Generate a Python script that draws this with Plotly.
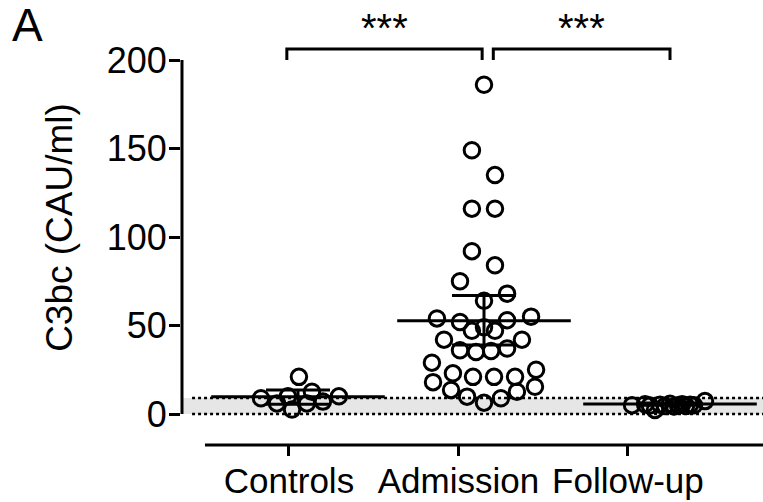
import plotly.graph_objects as go

# ---------------- data ----------------
categories = ["Controls", "Admission", "Follow-up"]

controls_values = [21, 8.9, 6, 10, 2.5, 6, 12.6, 7, 10]
controls_dx = [0.005, -0.199, -0.113, -0.054, -0.032, 0.048, 0.075, 0.134, 0.22]

admission_values = [186, 149, 135, 116, 116, 92, 84, 75, 68, 64,
                    54, 52, 53, 55, 49, 47, 47, 42, 42, 36, 35, 35.6, 37,
                    29, 23, 21, 21, 21, 25, 18, 13.6, 9.8, 6.4, 8.9, 12.6, 15.4]
admission_dx = [0, -0.065, 0.059, -0.065, 0.059, -0.065, 0.059, -0.129, 0.124, 0,
                -0.253, -0.129, 0.124, 0.253, 0, -0.065, 0.059, -0.215, 0.204,
                -0.129, -0.043, 0.038, 0.124,
                -0.28, -0.167, -0.059, 0.054, 0.167, 0.28, -0.274, -0.177, -0.091,
                0, 0.091, 0.177, 0.274]

followup_values = [5, 5.5, 4.8, 2.3, 5.2, 4.5, 5.8, 4.2, 5.0, 5.5, 4.6, 5.3, 4.9, 7.3]
followup_dx = [-0.204, -0.134, -0.108, -0.081, -0.054, -0.027, 0, 0.022, 0.043,
               0.065, 0.086, 0.108, 0.129, 0.188]

# summary lines (mean with 95% CI)
summary_center = [9.8, 52.7, 5.6]
summary_low = [5.5, 39, 5.0]
summary_high = [13.5, 67, 6.2]

# reference (normal) range band
ref_low = 0
ref_high = 9

# significance comparisons
comparisons = [(0, 1, "***"), (1, 2, "***")]

# y ticks
y_ticks = [0, 50, 100, 150, 200]

# ---------------- figure ----------------
FONT = "Liberation Sans, Arial, sans-serif"
groups = [controls_values, admission_values, followup_values]
offsets = [controls_dx, admission_dx, followup_dx]

fig = go.Figure()

for gi, (vals, dxs) in enumerate(zip(groups, offsets)):
    fig.add_trace(go.Scatter(
        x=[gi + d for d in dxs], y=vals, mode="markers",
        marker=dict(symbol="circle-open", size=15.5, color="black",
                    line=dict(width=3, color="black")),
        cliponaxis=False, hoverinfo="y", name=categories[gi]))

fig.add_trace(go.Scatter(
    x=list(range(len(categories))), y=summary_center, mode="markers",
    marker=dict(symbol="line-ew", size=124, color="black",
                line=dict(width=3, color="black")),
    error_y=dict(type="data", symmetric=False,
                 array=[h - c for h, c in zip(summary_high, summary_center)],
                 arrayminus=[c - l for c, l in zip(summary_center, summary_low)],
                 thickness=3, width=32, color="black"),
    cliponaxis=False, hoverinfo="y", name="mean"))

# invisible trace that carries the category axis
fig.add_trace(go.Scatter(
    x=list(range(len(categories))), y=[None] * len(categories),
    xaxis="x2", yaxis="y", mode="markers", hoverinfo="skip",
    showlegend=False, name="axis"))

shapes = []
# reference band
shapes.append(dict(type="rect", xref="paper", yref="y", x0=0, x1=1,
                   y0=ref_low, y1=ref_high, fillcolor="#e6e6e6",
                   line=dict(width=0), layer="below"))
for yv in (ref_low, ref_high):
    shapes.append(dict(type="line", xref="paper", yref="y", x0=0.019, x1=1,
                       y0=yv, y1=yv, line=dict(color="black", width=2.5, dash="3px,3px"),
                       layer="below"))
# y axis line (0 to 200 only)
shapes.append(dict(type="line", xref="paper", yref="y", x0=0.0017, x1=0.0017,
                   y0=y_ticks[0], y1=y_ticks[-1], line=dict(color="black", width=3)))
# x axis line (offset, starting right of the y axis)
shapes.append(dict(type="line", xref="paper", yref="paper", x0=0.0412, x1=1,
                   y0=0, y1=0, line=dict(color="black", width=3)))

annotations = []
for k, (i, j, label) in enumerate(comparisons):
    x0 = i + (0.05 if i > 0 else -0.06)
    x1 = j - (0.01 if j < len(categories) - 1 else 0.0)
    shapes.append(dict(type="path", xref="x", yref="y",
                       path=f"M {x0},200 L {x0},206.2 L {x1},206.2 L {x1},200",
                       line=dict(color="black", width=3)))
    annotations.append(dict(x=(x0 + x1) / 2, y=218, xref="x", yref="y",
                            text=label, showarrow=False,
                            font=dict(family=FONT, size=40, color="black")))

annotations.append(dict(x=-0.293, y=1, xref="paper", yref="paper", text="A",
                        xanchor="left", yanchor="top", showarrow=False, yshift=13,
                        font=dict(family=FONT, size=46, color="black")))

fig.update_layout(
    width=763, height=502,
    margin=dict(l=181, r=0, t=10, b=57),
    paper_bgcolor="white", plot_bgcolor="white",
    showlegend=False,
    font=dict(family=FONT, color="black"),
    xaxis=dict(range=[-0.629, 2.5], visible=False, showgrid=False, zeroline=False),
    xaxis2=dict(overlaying="x", anchor="y",
                range=[-0.637, 2.797], tickmode="array",
                tickvals=list(range(len(categories))), ticktext=categories,
                ticks="outside", ticklen=10, tickwidth=3, tickcolor="black",
                showline=False, showgrid=False, zeroline=False,
                ticklabelstandoff=-5,
                tickfont=dict(family=FONT, size=35, color="black")),
    yaxis=dict(range=[-17.51, 228.25], tickmode="array", tickvals=y_ticks,
               ticks="outside", ticklen=11, tickwidth=3, tickcolor="black",
               showline=False, showgrid=False, zeroline=False,
               ticklabelstandoff=-5,
               tickfont=dict(family=FONT, size=36, color="black"),
               title=dict(text="C3bc (CAU/ml)", standoff=22,
                          font=dict(family=FONT, size=37, color="black"))),
    shapes=shapes, annotations=annotations,
)

fig.write_html("out.html", config={"displayModeBar": False},
               post_script="document.body.style.margin='0px';")
